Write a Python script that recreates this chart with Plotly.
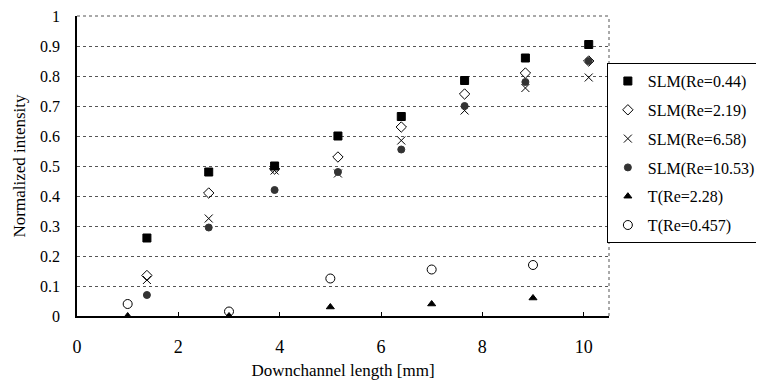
import plotly.graph_objects as go

x_slm = [1.38, 2.6, 3.9, 5.15, 6.4, 7.65, 8.85, 10.1]
slm_044 = [0.26, 0.48, 0.50, 0.60, 0.665, 0.785, 0.86, 0.905]
slm_219 = [0.135, 0.41, 0.49, 0.53, 0.63, 0.74, 0.81, 0.85]
slm_658 = [0.12, 0.325, 0.485, 0.475, 0.585, 0.685, 0.76, 0.795]
slm_1053 = [0.07, 0.295, 0.42, 0.48, 0.555, 0.70, 0.78, 0.85]
x_t = [1, 3, 5, 7, 9]
t_228 = [0.0, 0.0, 0.03, 0.04, 0.06]
t_0457 = [0.04, 0.015, 0.125, 0.155, 0.17]

names = ["SLM(Re=0.44)", "SLM(Re=2.19)", "SLM(Re=6.58)", "SLM(Re=10.53)", "T(Re=2.28)", "T(Re=0.457)"]
xs = [x_slm, x_slm, x_slm, x_slm, x_t, x_t]
ys = [slm_044, slm_219, slm_658, slm_1053, t_228, t_0457]
symbols = ["square", "diamond-open", "x-thin-open", "circle", "triangle-up", "circle-open"]
sizes = [8, 8, 8, 7, 7, 9]
colors = ["black", "black", "black", "#333333", "black", "black"]

font = "Liberation Serif"
fig = go.Figure()
for i in range(6):
    fig.add_trace(go.Scatter(
        x=xs[i], y=ys[i], mode="markers", name=names[i],
        legendgroup=f"g{i}",
        marker=dict(symbol=symbols[i], size=sizes[i], color=colors[i],
                    line=dict(color=colors[i], width=1)),
    ))

fig.update_layout(
    width=756, height=381,
    margin=dict(l=69, r=155, t=8, b=73, autoexpand=False),
    paper_bgcolor="white", plot_bgcolor="white",
    font=dict(family=font, size=16, color="black"),
    legend=dict(x=0.996, y=0.843, xanchor="left", yanchor="top",
                bordercolor="black", borderwidth=1,
                font=dict(family=font, size=16, color="black"),
                tracegroupgap=5, itemwidth=30),
    showlegend=True,
)
fig.update_xaxes(
    range=[0, 10.5], tickvals=[0, 2, 4, 6, 8, 10], showgrid=False,
    zeroline=False, showline=True, linecolor="black", linewidth=1.5,
    ticks="inside", ticklen=4, tickcolor="black", automargin=False,
    ticklabeloverflow="allow", ticklabelstandoff=14,
    tickfont=dict(family=font, size=18),
    title=dict(text="Downchannel length [mm]", font=dict(family=font, size=17), standoff=8),
)
fig.update_yaxes(
    range=[0, 1], tickvals=[0, 0.1, 0.2, 0.3, 0.4, 0.5, 0.6, 0.7, 0.8, 0.9, 1],
    ticktext=["0", "0.1", "0.2", "0.3", "0.4", "0.5", "0.6", "0.7", "0.8", "0.9", "1"],
    showgrid=True, gridcolor="#555555", griddash="dot", gridwidth=1,
    zeroline=False, showline=True, linecolor="black", linewidth=1.5,
    ticks="", automargin=False, ticklabeloverflow="allow", ticklabelstandoff=12,
    tickfont=dict(family=font, size=16),
    title=dict(text="Normalized intensity", font=dict(family=font, size=17), standoff=10),
)
fig.add_shape(type="line", xref="paper", yref="paper", x0=1, x1=1, y0=0, y1=1,
              line=dict(color="#555555", width=1, dash="dot"))
fig.add_shape(type="line", xref="paper", yref="paper", x0=0, x1=1, y0=1, y1=1,
              line=dict(color="#555555", width=1, dash="dot"))
fig.write_html("out.html")
